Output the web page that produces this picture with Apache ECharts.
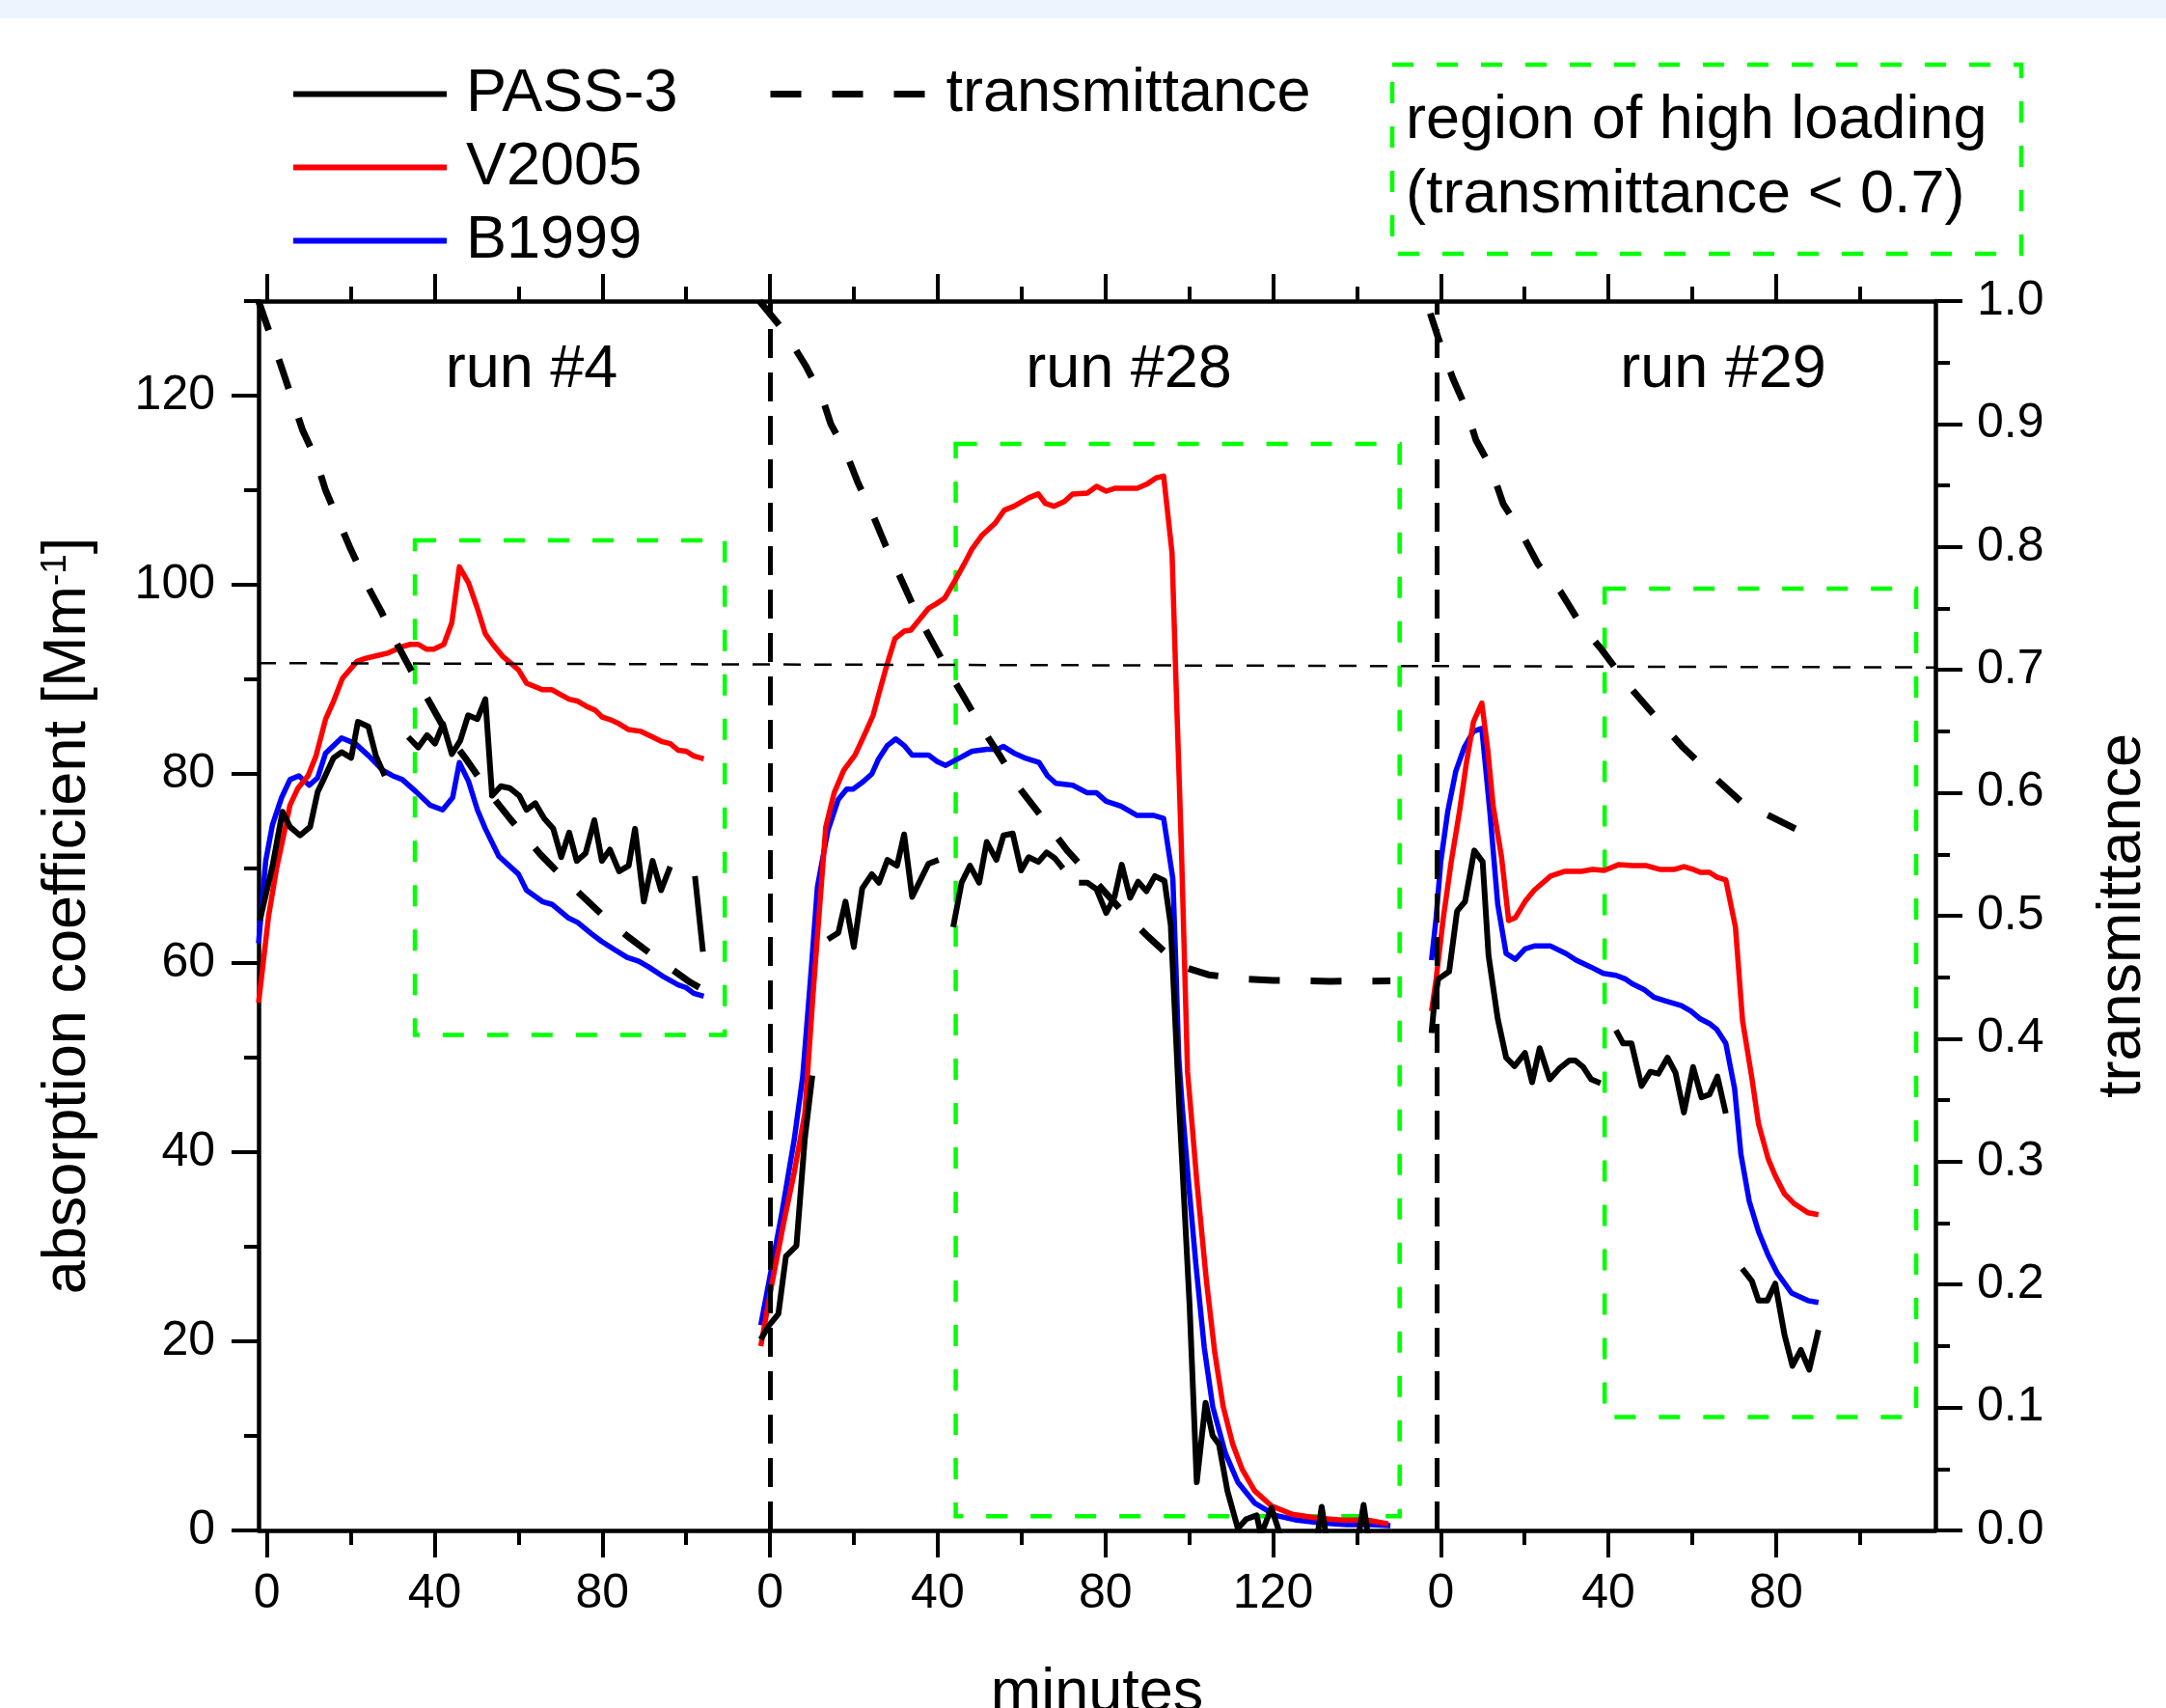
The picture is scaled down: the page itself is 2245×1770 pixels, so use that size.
<!DOCTYPE html>
<html><head><meta charset="utf-8">
<script src="https://cdn.jsdelivr.net/npm/echarts@6/dist/echarts.min.js"></script>
<style>html,body{margin:0;padding:0;background:#fff}#c{width:2245px;height:1770px}</style>
</head><body><div id="c"></div>
<script>
// ---------- data (minutes relative to each run start, values) ----------
const runNames = ['run #4', 'run #28', 'run #29'];
const runOffsets = [0, 120, 280];          // position of each run's "0" on the shared time axis
const separatorsX = [120, 279];

const xMajorTicks = [0, 40, 80, 120, 160, 200, 240, 280, 320, 360];
const xMinorTicks = [20, 60, 100, 140, 180, 220, 260, 300, 340, 380];
const yMajorTicks = [0, 20, 40, 60, 80, 100, 120];
const yMinorTicks = [10, 30, 50, 70, 90, 110, 130];
const tMajorTicks = [0, 0.1, 0.2, 0.3, 0.4, 0.5, 0.6, 0.7, 0.8, 0.9, 1.0];
const tMinorTicks = [0.05, 0.15, 0.25, 0.35, 0.45, 0.55, 0.65, 0.75, 0.85, 0.95];

// V2005 (red)
const v2005Run4 = [[-2,55.8],[0.4,65],[2.3,70],[5.5,76.7],[7.4,78.5],[9.8,79.8],[11.7,81.9],[14,85.8],[15.9,87.7],[18,90.1],[21.5,91.9],[23.4,92.2],[26.2,92.5],[29,92.8],[31.9,93.4],[34.2,93.7],[36.1,93.7],[38,93.2],[39.8,93.2],[42.2,93.7],[44.1,96],[45.9,101.9],[48.1,100.2],[50.2,97.5],[52.1,94.8],[53.9,93.7],[56.3,92.4],[58.2,91.7],[60,91],[61.9,89.6],[65.7,88.9],[68,88.9],[70.4,88.3],[72.1,87.9],[74.1,87.7],[76,87.2],[78.4,86.7],[80,86],[82.1,85.7],[84,85.3],[86.2,84.7],[89.2,84.5],[92,83.9],[94.3,83.4],[96.2,83.2],[98.1,82.5],[100,82.4],[101.8,81.9],[104.2,81.6]];
const v2005Run28 = [[-2.2,19.5],[0.3,25.7],[3.3,32.6],[5.8,37.9],[8.3,44.1],[10.3,56.9],[11.8,65.7],[13.3,74.4],[15.3,78],[17.6,80.4],[20.3,82],[22.8,84.4],[24.6,86.2],[25.8,88.2],[27.8,91.4],[29.8,94.3],[32,95.1],[33.6,95.2],[35.8,96.4],[37.8,97.5],[39.7,98],[41.7,98.6],[44.2,100.5],[46.2,102.1],[48.2,103.8],[50.5,105.2],[53.7,106.5],[55.9,107.9],[58.2,108.3],[61.7,109.2],[64,109.6],[65.7,108.6],[67.7,108.3],[70.2,108.8],[72.2,109.6],[75.7,109.7],[77.9,110.4],[80.2,109.9],[82.2,110.2],[87.6,110.2],[90.1,110.7],[92.1,111.3],[93.9,111.5],[95.9,103.4],[96.8,90.4],[98.1,72.7],[99.6,48.5],[100.8,42.3],[101.8,37],[104.1,26.4],[106.1,18.8],[108.1,13.1],[110.4,9.1],[112.6,6.5],[115.6,4.2],[119.6,2.6],[124.6,1.7],[130.6,1.3],[136.5,1.1],[142.5,1.1],[147.5,0.7]];
const v2005Run29 = [[-2.2,54.9],[-1.1,58.3],[0.6,64.7],[2.5,70.7],[4.5,76.1],[6.1,81.1],[7.8,85.5],[9.8,87.5],[11.2,82.6],[12.5,76.6],[14.5,71.2],[16.2,64.5],[17.8,64.8],[20.1,66.5],[22.3,67.7],[26.2,69.2],[29.6,69.7],[33.5,69.7],[36.2,69.9],[39,69.8],[42.4,70.4],[45.7,70.3],[49.1,70.3],[52.2,69.9],[55.8,69.9],[58,70.2],[60.2,69.9],[61.9,69.6],[64.1,69.6],[65.8,69.1],[68,68.8],[70.3,63.8],[72,53.9],[74.2,47.9],[75.8,43],[78.1,39.3],[79.8,37.5],[82,35.6],[84.2,34.6],[87.6,33.6],[90.1,33.4]];

// B1999 (blue)
const b1999Run4 = [[-2,62.1],[-0.3,70.8],[1.3,74.6],[3.5,77.5],[5.5,79.4],[7.6,79.8],[10.1,78.8],[12.1,79.6],[14,82.2],[17.8,83.8],[21.1,83.2],[24.3,81.9],[27.6,80.4],[30,79.8],[32.3,79.4],[35.6,78.1],[38.9,76.7],[41.9,76.2],[44.3,77.5],[45.9,81.2],[48.1,79.2],[50.2,76.2],[52.1,74.2],[55.3,71.3],[60,69.4],[61.9,67.7],[65.7,66.5],[68,66.2],[71.8,64.8],[74.1,64.3],[77.4,63.1],[79.8,62.3],[82.6,61.5],[85.9,60.6],[88.7,60.2],[91,59.6],[94.8,58.5],[98.1,57.7],[100,57.4],[101.8,56.8],[104.2,56.5]];
const b1999Run28 = [[-2.2,21.7],[-0.2,26.4],[2.8,33.5],[5.8,41.4],[7.8,48],[9.8,59.1],[11.3,68],[13.8,74],[16.3,77.3],[18.3,78.4],[19.8,78.4],[22,79.1],[24.3,80],[25.8,81.5],[28,83],[30,83.7],[32,83],[33.9,82],[37.8,82],[39.9,81.3],[41.9,80.9],[45.7,81.8],[48.2,82.4],[51.7,82.6],[54.2,82.6],[55.7,82.9],[58.2,82.2],[60.7,81.7],[64.2,81.2],[66.2,79.8],[68.2,79],[72.2,78.8],[75.7,78],[77.9,78],[80.2,77.1],[83.7,76.6],[87.6,75.6],[91.6,75.6],[93.9,75.3],[96.1,68.9],[96.8,60],[97.5,50],[98.3,45],[99.8,37],[101.6,28.1],[103.6,19.3],[105.6,13.1],[108.6,8.2],[111.6,5.1],[115.6,2.9],[120.6,1.6],[125.6,1.1],[131.6,0.8],[137.6,0.6],[143.5,0.6],[148,0.5]];
const b1999Run29 = [[-2.2,60.3],[-1.1,64.8],[0,70.7],[1.7,76.1],[3.6,80.3],[5.6,82.8],[7.8,84.5],[9.8,84.8],[11.7,76.1],[13.6,66.2],[15.6,61],[17.8,60.4],[20.1,61.5],[22.3,61.8],[26.2,61.8],[29.9,61],[32.3,60.3],[35.7,59.6],[38.8,58.9],[41.8,58.7],[44.1,58.3],[45.7,57.8],[48.5,57.2],[50.8,56.4],[53.5,56],[57.4,55.5],[59.7,54.9],[61.9,54.1],[64.1,53.6],[65.8,53],[68,51.5],[70.1,46.7],[71.6,39.8],[73.6,34.8],[75.8,31.6],[78.1,29.1],[80.3,27.2],[83.7,25.1],[87.6,24.3],[90.1,24.1]];

// PASS-3 (black), measured segments with gaps
const pass3Run4 = [
  [[-1.7,64.5],[1.3,70.2],[3.7,76],[5.5,74.4],[7.9,73.5],[10.3,74.4],[12.1,78.1],[13.5,79.4],[15.9,81.7],[17.8,82.3],[20.1,81.7],[21.7,85.5],[24.2,85],[26,81.9],[28.1,79.8]],
  [[33.7,83.9],[36.1,82.8],[38.2,84.1],[40.1,83.2],[42,85.3],[44.1,82.1],[46.1,83.5],[48,86.2],[50.2,85.8],[52.1,87.9],[53.7,77.7],[55.8,78.7],[57.9,78.5],[60.2,77.7],[61.9,76.2],[64,76.9],[66.1,75.3],[68.3,74.2],[70.2,71.2],[72.1,73.8],[73.9,70.8],[76,71.6],[78.1,75.1],[79.9,70.8],[81.8,72],[84,69.7],[86.3,70.3],[87.8,74.2],[89.9,66.5],[92,70.8],[94,67.7],[96.2,70.2]],
  [[102.1,69.2],[104,61.2]]
];
const pass3Run28 = [
  [[-2.2,20.2],[-0.2,21.7],[2,22.9],[3.8,29],[6.3,30.1],[8.3,41.4],[10.1,48.1]],
  [[13.8,62.5],[16.3,63.2],[18,66.5],[20,61.7],[22,67.9],[24.3,69.4],[26,68.5],[28,70.9],[30.3,70.3],[32,73.6],[33.9,67],[37.8,70.5],[40.2,70.9]],
  [[43.7,63.8],[45.7,68.5],[47.7,70.3],[49.9,68.5],[51.7,72.8],[54,70.9],[55.7,73.5],[57.9,73.7],[59.9,69.8],[61.7,71.2],[64,70.7],[66,71.7],[67.9,71.1],[69.9,70]],
  [[73.7,68.5],[75.7,68.5],[77.9,67.8],[80.2,65.3],[82.2,67],[83.9,70.4],[85.9,66.9],[87.8,68.6],[89.8,67.6],[91.8,69.2],[94.1,68.7],[95.6,64],[97.6,45],[100.1,23.7],[101.8,5.1],[103.9,13.5],[105.6,10],[107.1,9.1],[109.1,4.2],[111.6,0.2],[113.6,1.2],[116.1,1.6],[117.1,-0.5],[119.6,2.4],[122.1,-1],[125,-1.5],[128,-1],[130.6,-0.5],[131.6,2.5],[132.8,-1],[136,-1.2],[139,-1],[140.4,-0.5],[141.6,2.7],[142.8,-1],[145,-1.5],[148,-1]]
];
const pass3Run29 = [
  [[-2.2,52.6],[-1.5,55.9],[-0.6,58.3],[2,59.1],[3.9,65.5],[5.8,66.5],[8,71.9],[10,70.7],[11.4,60.8],[13.6,54.1],[15.6,50],[17.6,49.1],[20.1,50.5],[21.8,47.4],[23.6,51],[26,47.7],[28.4,48.9],[30.7,49.7],[32.1,49.7],[34,49],[35.9,47.7],[38.1,47.3]],
  [[41.8,52.9],[43.5,51.5],[45.5,51.5],[47.9,47],[50,48.5],[51.9,48.3],[54.1,50],[56,48.4],[58,44.2],[60.2,49],[62.2,45.8],[64.1,46.1],[66,48],[68,44.1]],
  [[71.9,27.7],[74.2,26.4],[75.8,24.3],[77.9,24.3],[79.8,26.1],[82,20.7],[83.9,17.4],[85.9,19.1],[87.9,17],[90.1,21.2]]
];

// transmittance (right axis)
const transRun4 = [[-2,1.0],[3.5,0.946],[8.5,0.895],[11.5,0.873],[14,0.846],[20,0.798],[24.5,0.765],[27.2,0.748],[30.4,0.725],[34.5,0.699],[38.4,0.676],[43,0.648],[47.6,0.627],[53.5,0.598],[58.2,0.578],[65.2,0.55],[71.8,0.527],[79.6,0.502],[86.1,0.483],[94.3,0.462],[100.9,0.446],[104,0.44]];
const transRun28 = [[-2.5,1.0],[3.5,0.975],[8.4,0.948],[12.4,0.922],[14.5,0.9],[18,0.878],[21,0.852],[24.3,0.828],[27.6,0.801],[30.6,0.779],[34.3,0.751],[37.7,0.729],[41.7,0.704],[45.9,0.68],[50.5,0.653],[54.7,0.631],[59.7,0.603],[64.7,0.581],[70.9,0.553],[76.5,0.532],[83.7,0.505],[90.2,0.483],[95,0.468],[98.1,0.459],[104.6,0.452],[113.1,0.4485],[120,0.4475],[133.7,0.4467],[148,0.447]];
const transRun29 = [[-2.5,0.99],[-0.5,0.969],[2.9,0.937],[6.1,0.912],[8.4,0.887],[11.9,0.865],[14.9,0.835],[19,0.813],[23.2,0.786],[28.5,0.764],[33.2,0.738],[38.5,0.716],[44.6,0.688],[50.2,0.666],[57.5,0.638],[64.2,0.616],[71.9,0.592],[78.6,0.581],[86.2,0.568],[90,0.565]];

// 0.7 transmittance reference line (slightly tilted as drawn)
const thresholdLine = [[-2, 0.7055], [398, 0.702]];

// regions of high loading: [xStart, xEnd, yLow, yHigh] (run-relative minutes, absorption units)
const highLoadBoxes = [[35.3, 109.2, 52.4, 104.7], [44.3, 150.2, 1.5, 114.9], [39.1, 113.4, 12.0, 99.6]];

// ---------- build ----------
function joinRuns(runs) {
  const out = [];
  runs.forEach((segs, i) => {
    segs.forEach(seg => {
      seg.forEach(p => out.push([p[0] + runOffsets[i], p[1]]));
      out.push([seg[seg.length - 1][0] + runOffsets[i] + 0.3, null]);
    });
  });
  return out;
}
const FONT = '"Liberation Sans", Arial, Helvetica, sans-serif';
const chart = echarts.init(document.getElementById('c'), null, {renderer: 'canvas'});

const lineBase = {type: 'line', symbol: 'none', showSymbol: false, connectNulls: false, animation: false, xAxisIndex: 0};
const xFmt = v => { v = Math.round(v); return String(v < 120 ? v : (v < 280 ? v - 120 : v - 280)); };
const axisLineOn = {show: true, onZero: false, lineStyle: {color: '#000', width: 4.5}};
const axisLineOff = {show: false, onZero: false};
const tickMajor = vals => ({show: true, customValues: vals, length: 28, inside: false, lineStyle: {color: '#000', width: 4}});
const tickMinor = vals => ({show: true, customValues: vals, length: 15, inside: false, lineStyle: {color: '#000', width: 4}});
const labelStyle = {color: '#000', fontSize: 50, fontFamily: FONT};
const legendCommon = {selectedMode: false, itemHeight: 14, itemStyle: {opacity: 0},
  textStyle: {fontSize: 63, fontFamily: FONT, color: '#000', padding: [0, 0, 0, 15]}};

const option = {
  backgroundColor: '#ffffff',
  animation: false,
  grid: {left: 268, right: 239, top: 312, bottom: 184, containLabel: false, outerBoundsMode: 'none'},
  legend: [
    {...legendCommon, data: ['PASS-3', 'V2005', 'B1999'], orient: 'vertical', left: 296, top: 61, itemWidth: 159, itemGap: 13,
     lineStyle: {width: 6}},
    {...legendCommon, data: ['transmittance'], orient: 'horizontal', left: 790, top: 61, itemWidth: 162,
     lineStyle: {width: 7}}
  ],
  xAxis: [
    {type: 'value', min: -2, max: 398, position: 'bottom', axisLine: axisLineOn,
     axisTick: tickMajor(xMajorTicks), splitLine: {show: false},
     axisLabel: {show: true, customValues: xMajorTicks, formatter: xFmt, margin: 41, ...labelStyle},
     name: 'minutes', nameLocation: 'middle', nameGap: 138, nameTextStyle: {fontSize: 63, fontFamily: FONT, color: '#000'}},
    {type: 'value', min: -2, max: 398, position: 'bottom', axisLine: axisLineOff, axisTick: tickMinor(xMinorTicks),
     axisLabel: {show: false}, splitLine: {show: false}},
    {type: 'value', min: -2, max: 398, position: 'top', axisLine: axisLineOn,
     axisTick: tickMajor(xMajorTicks), axisLabel: {show: false}, splitLine: {show: false}},
    {type: 'value', min: -2, max: 398, position: 'top', axisLine: axisLineOff, axisTick: tickMinor(xMinorTicks),
     axisLabel: {show: false}, splitLine: {show: false}}
  ],
  yAxis: [
    {type: 'value', min: 0, max: 130, position: 'left', axisLine: axisLineOn,
     axisTick: tickMajor(yMajorTicks), splitLine: {show: false},
     axisLabel: {show: true, customValues: yMajorTicks, margin: 45, ...labelStyle},
     name: 'absorption coefficient [Mm{sup|-1}]', nameLocation: 'middle', nameGap: 166, nameRotate: 90,
     nameTextStyle: {fontSize: 63, fontFamily: FONT, color: '#000',
       rich: {sup: {fontSize: 37, fontFamily: FONT, color: '#000', verticalAlign: 'top', lineHeight: 37}}}},
    {type: 'value', min: 0, max: 130, position: 'left', axisLine: axisLineOff, axisTick: tickMinor(yMinorTicks),
     axisLabel: {show: false}, splitLine: {show: false}},
    {type: 'value', min: 0, max: 1, position: 'right', axisLine: axisLineOn,
     axisTick: tickMajor(tMajorTicks), splitLine: {show: false},
     axisLabel: {show: true, customValues: tMajorTicks, margin: 43, formatter: v => Number(v).toFixed(1), ...labelStyle},
     name: 'transmittance', nameLocation: 'middle', nameGap: 163, nameRotate: 90,
     nameTextStyle: {fontSize: 63, fontFamily: FONT, color: '#000'}},
    {type: 'value', min: 0, max: 1, position: 'right', axisLine: axisLineOff, axisTick: tickMinor(tMinorTicks),
     axisLabel: {show: false}, splitLine: {show: false}}
  ],
  series: [
    {...lineBase, name: 'B1999', yAxisIndex: 0, data: joinRuns([[b1999Run4], [b1999Run28], [b1999Run29]]),
     lineStyle: {color: '#0000ff', width: 5.5, join: 'round'}, itemStyle: {color: '#0000ff'}, z: 3},
    {...lineBase, name: 'V2005', yAxisIndex: 0, data: joinRuns([[v2005Run4], [v2005Run28], [v2005Run29]]),
     lineStyle: {color: '#ff0000', width: 5.5, join: 'round'}, itemStyle: {color: '#ff0000'}, z: 4},
    {...lineBase, name: 'PASS-3', yAxisIndex: 0, data: joinRuns([pass3Run4, pass3Run28, pass3Run29]),
     lineStyle: {color: '#000000', width: 6, join: 'round'}, itemStyle: {color: '#000000'}, z: 5},
    {...lineBase, name: 'transmittance', yAxisIndex: 2, data: joinRuns([[transRun4], [transRun28], [transRun29]]),
     lineStyle: {color: '#000000', width: 7, type: [32, 32]}, itemStyle: {color: '#000000'}, z: 6},
    {...lineBase, name: '0.7 line', yAxisIndex: 2, data: thresholdLine,
     lineStyle: {color: '#000000', width: 2.5, type: [18, 14]}, z: 6, silent: true},
    {...lineBase, name: 'guides', yAxisIndex: 0, data: [], z: 7, silent: true,
     markLine: {silent: true, symbol: ['none', 'none'], animation: false, label: {show: false},
       lineStyle: {color: '#000', width: 5, type: [30, 15]},
       data: separatorsX.map(x => ({xAxis: x}))},
     markArea: {silent: true, animation: false, label: {show: false},
       itemStyle: {color: 'rgba(0,0,0,0)', borderColor: '#00ff00', borderWidth: 4.5, borderType: [22, 24]},
       data: highLoadBoxes.map((b, i) => [{coord: [b[0] + runOffsets[i], b[3]]}, {coord: [b[1] + runOffsets[i], b[2]]}])}}
  ],
  graphic: [
    {type: 'rect', left: 0, top: 0, z: -10, shape: {width: 2245, height: 19}, style: {fill: '#edf4fd'}},
    ...runNames.map((t, i) => ({type: 'text', x: [551, 1170, 1786][i], y: 384, z: 10,
      style: {text: t, fontSize: 63, fontFamily: FONT, fill: '#000', textAlign: 'center', textVerticalAlign: 'middle', align: 'center', verticalAlign: 'middle'}})),
    {type: 'rect', x: 1443, y: 67, z: 10, shape: {width: 652, height: 196},
     style: {fill: 'none', stroke: '#00ff00', lineWidth: 4.5, lineDash: [22, 24]}},
    {type: 'text', x: 1457, y: 126, z: 10, style: {text: 'region of high loading', fontSize: 63, fontFamily: FONT, fill: '#000', textAlign: 'left', textVerticalAlign: 'middle', align: 'left', verticalAlign: 'middle'}},
    {type: 'text', x: 1457, y: 203, z: 10, style: {text: '(transmittance < 0.7)', fontSize: 63, fontFamily: FONT, fill: '#000', textAlign: 'left', textVerticalAlign: 'middle', align: 'left', verticalAlign: 'middle'}}
  ]
};
chart.setOption(option);
</script></body></html>
